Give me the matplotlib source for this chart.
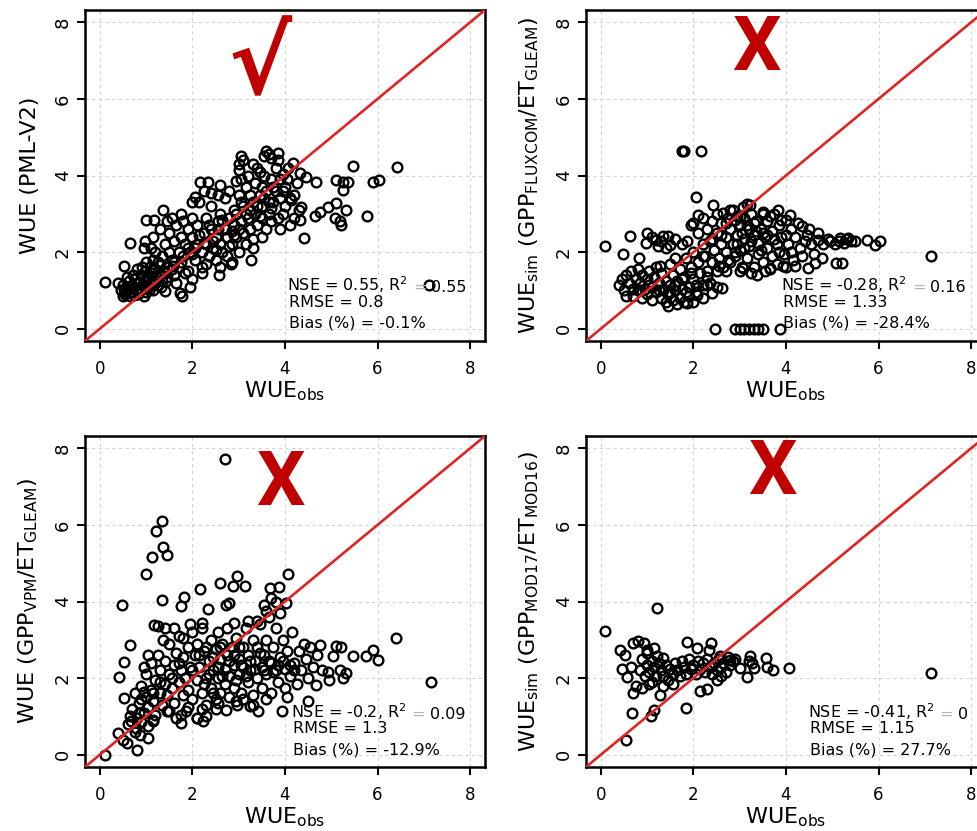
import matplotlib
matplotlib.use("Agg")
import matplotlib.pyplot as plt
import numpy as np

# ---------------------------------------------------------------- estilo
RED_LINE = "#de2424"
MARK_RED = "#c00000"
GRID = "#d4d4d4"
EQ_GRAY = "#b4b4b4"
LIM = (-0.32, 8.32)
TICKS = [0, 2, 4, 6, 8]

plt.rcParams.update({
    "font.family": "DejaVu Sans",
    "mathtext.fontset": "dejavusans",
    "axes.linewidth": 1.8,
    "xtick.major.width": 1.5,
    "ytick.major.width": 1.5,
    "xtick.major.size": 5.5,
    "ytick.major.size": 5.5,
    "xtick.direction": "out",
    "ytick.direction": "out",
})

# ---------------------------------------------------------------- datos
# WUE_obs vs WUE simulado
tl_pts = [
    (0.11, 1.21), (0.53, 1.63), (0.65, 2.23), (0.99, 2.83), (1.17, 2.83), (1.37, 3.09),
    (1.41, 0.99), (2.16, 3.84), (2.34, 3.84), (2.0, 3.32), (2.57, 1.40), (2.83, 1.69),
    (3.26, 1.80), (3.0, 4.15), (3.06, 4.5), (3.6, 4.63), (3.85, 4.58), (4.06, 4.19),
    (4.17, 4.32), (5.47, 4.26), (6.42, 4.23), (5.9, 3.84), (6.04, 3.89), (5.11, 3.89),
    (5.25, 3.84), (5.36, 3.84), (5.25, 3.63), (5.11, 3.28), (5.32, 3.09), (4.93, 3.19),
    (4.75, 3.06), (4.64, 2.93), (5.07, 2.89), (5.18, 2.8), (5.22, 2.71), (5.78, 2.95),
    (4.42, 2.37), (4.68, 3.84), (4.46, 3.97), (4.32, 4.06), (4.14, 3.37), (4.32, 2.84),
    (4.35, 3.19), (7.12, 1.15),
    (0.45, 1.0), (0.5, 1.15), (0.55, 0.9), (0.6, 1.05), (0.62, 1.25), (0.68, 0.95),
    (0.7, 1.15), (0.75, 1.3), (0.78, 1.0), (0.82, 0.9), (0.85, 1.2), (0.88, 1.4),
    (0.9, 1.05), (0.95, 1.25), (0.98, 1.5), (1.0, 0.95), (1.02, 1.1), (1.05, 1.35),
    (1.08, 1.6), (1.1, 1.2), (1.12, 1.45), (1.15, 1.0), (1.18, 1.3), (1.2, 1.55),
    (1.25, 1.15), (1.28, 1.4), (1.3, 1.7), (1.35, 1.25), (1.38, 1.5), (0.5, 0.85),
    (0.65, 0.85), (0.72, 1.4), (0.4, 1.2), (0.92, 1.6), (1.0, 1.75), (0.58, 1.35),
    (0.8, 1.55), (1.15, 1.8), (0.95, 0.85), (1.73, 0.93), (1.78, 0.86), (1.94, 1.09),
    (1.83, 1.45), (1.58, 1.63), (1.65, 1.19),
    (1.35, 1.9), (1.4, 2.2), (1.45, 1.6), (1.5, 2.0), (1.5, 2.5), (1.55, 1.8),
    (1.6, 2.3), (1.6, 1.4), (1.65, 2.7), (1.7, 2.0), (1.7, 1.6), (1.75, 2.4),
    (1.8, 2.8), (1.8, 1.9), (1.85, 2.2), (1.9, 2.6), (1.9, 1.5), (1.95, 2.0),
    (2.0, 2.4), (2.0, 2.9), (2.05, 1.8), (2.1, 2.2), (2.1, 2.7), (2.15, 3.3),
    (2.2, 2.0), (2.2, 1.6), (2.25, 2.5), (2.3, 2.9), (2.3, 2.2), (2.35, 1.9),
    (2.4, 2.6), (2.4, 3.2), (2.45, 2.1), (2.5, 2.4), (2.5, 1.8), (2.55, 2.8),
    (2.55, 3.5), (2.6, 2.2), (2.6, 3.0), (2.65, 2.0), (2.7, 2.6), (2.7, 3.4),
    (2.75, 1.9), (2.75, 2.4), (2.8, 2.9), (2.8, 3.6), (2.85, 2.2), (2.9, 2.7),
    (2.9, 3.1), (2.95, 2.4), (3.0, 3.5), (3.0, 2.0), (3.05, 2.8), (3.05, 3.9),
    (3.1, 2.5), (3.1, 3.2), (3.15, 2.2), (3.15, 3.7), (3.2, 2.9), (3.2, 4.0),
    (3.25, 2.6), (3.3, 3.3), (3.3, 2.1), (3.35, 3.0), (3.35, 3.8), (3.4, 2.7),
    (3.4, 4.2), (3.45, 3.5), (3.5, 2.9), (3.5, 3.2), (3.55, 4.0), (3.6, 2.6),
    (3.6, 3.6), (3.65, 3.0), (3.7, 3.9), (3.7, 2.8), (3.75, 3.3), (3.8, 3.6),
    (3.85, 2.9), (3.9, 3.4), (3.95, 3.0), (4.0, 3.7), (4.0, 3.2), (4.1, 3.4),
    (4.2, 2.9), (4.2, 3.5), (4.3, 3.1), (4.1, 2.7), (3.9, 2.6), (3.5, 2.4),
    (3.3, 2.35), (1.2, 2.0), (1.25, 1.75), (1.1, 2.1), (0.95, 2.1), (1.45, 2.8),
    (1.3, 2.6), (1.15, 2.4), (0.98, 2.3), (1.55, 2.9), (1.75, 3.0), (2.05, 3.45),
    (2.25, 3.6), (2.4, 3.55), (2.6, 3.75), (2.95, 3.85), (3.0, 4.3), (3.1, 4.4),
    (3.3, 4.3), (3.55, 4.5), (3.65, 4.55), (3.7, 4.45), (3.45, 4.1), (3.8, 4.2),
    (3.85, 4.4), (2.8, 2.15), (2.5, 2.05), (2.2, 1.45), (2.0, 1.3), (2.3, 1.7),
    (2.6, 1.6), (2.85, 1.75),
    (1.45, 1.35), (1.6, 1.75), (1.75, 1.75), (1.9, 2.1), (2.05, 2.1), (2.15, 2.45),
    (2.35, 2.7), (2.45, 2.3), (2.55, 2.6), (2.65, 2.85), (2.85, 2.55), (2.95, 3.0),
    (3.05, 3.3), (3.15, 3.0), (3.25, 3.5), (3.4, 3.2), (3.5, 3.7), (3.55, 3.4),
    (3.65, 3.3), (3.75, 3.7), (3.9, 3.9), (3.95, 3.6), (3.25, 3.1), (2.9, 2.45),
    (3.0, 2.6), (3.45, 2.95), (3.7, 3.15), (2.25, 2.25), (2.0, 1.95), (1.55, 1.55),
    (1.4, 1.45), (1.2, 1.2), (3.95, 4.05), (4.05, 3.9), (4.25, 3.8),
    (0.52, 1.05), (0.66, 1.1), (0.74, 0.88), (0.86, 1.05), (0.93, 1.35), (1.06, 1.0),
    (1.14, 1.15), (1.22, 1.35), (1.32, 1.1), (1.42, 1.25), (0.56, 0.95), (0.8, 1.2),
]

tr_pts = [
    (1.75, 4.63), (1.8, 4.63), (2.16, 4.63), (2.05, 3.45), (0.09, 2.15), (0.47, 1.96),
    (0.64, 2.41), (0.83, 1.84), (0.99, 2.5), (0.98, 2.23), (1.19, 2.32), (1.24, 2.15),
    (1.35, 2.41), (1.46, 2.41), (1.5, 2.19), (1.86, 2.28), (1.6, 1.84), (1.28, 1.63),
    (2.0, 2.76), (2.1, 2.97), (2.42, 3.23), (2.65, 3.02), (2.79, 3.1), (3.08, 3.19),
    (3.22, 3.23), (2.94, 2.93), (3.51, 3.06), (3.83, 3.1), (4.09, 2.97), (4.34, 2.67),
    (4.45, 2.45), (4.7, 2.32), (4.95, 2.28), (5.17, 2.37), (5.35, 2.37), (5.49, 2.28),
    (5.76, 2.32), (5.92, 2.19), (6.03, 2.28), (5.09, 1.71), (5.2, 1.71), (7.14, 1.9),
    (4.77, 1.84), (4.63, 1.71), (4.48, 1.58), (4.19, 1.63), (3.94, 1.63), (3.65, 1.58),
    (3.37, 1.41), (3.08, 1.58), (2.07, 0.89), (2.4, 0.93), (2.61, 1.06), (2.29, 1.15),
    (1.86, 0.67),
    (2.47, 0.0), (2.9, 0.0), (3.0, 0.0), (3.1, 0.0), (3.2, 0.0), (3.3, 0.0),
    (3.4, 0.0), (3.5, 0.0), (3.87, 0.0),
    (0.4, 1.15), (0.45, 1.3), (0.5, 1.0), (0.55, 1.4), (0.55, 0.85), (0.6, 1.2),
    (0.65, 1.5), (0.7, 1.05), (0.7, 0.85), (0.75, 1.3), (0.8, 1.0), (0.8, 1.55),
    (0.85, 1.2), (0.9, 1.4), (0.9, 0.8), (0.95, 1.05), (1.0, 1.3), (1.0, 0.9),
    (1.05, 1.5), (1.1, 1.1), (1.1, 0.75), (1.15, 1.35), (1.2, 0.95), (1.2, 1.6),
    (1.25, 1.2), (1.3, 0.8), (1.3, 1.45), (1.35, 1.0), (1.4, 1.25), (1.4, 0.7),
    (1.45, 0.9), (1.5, 1.15), (1.5, 1.7), (1.55, 0.75), (1.55, 1.4), (1.6, 1.0),
    (1.65, 1.25), (1.7, 0.8), (1.7, 1.55), (1.75, 1.05), (1.8, 0.7), (1.8, 1.35),
    (1.85, 1.85), (1.9, 1.1), (1.9, 0.85), (1.95, 1.6), (2.0, 1.3), (2.0, 2.0),
    (2.05, 0.95), (2.1, 1.75), (2.1, 2.5), (2.15, 1.45), (2.2, 2.2), (2.2, 1.15),
    (2.25, 1.9), (2.3, 2.6), (2.3, 1.5), (2.35, 2.3), (2.4, 1.75), (2.4, 2.8),
    (2.45, 2.05), (2.5, 1.5), (2.5, 2.5), (2.55, 1.85), (2.6, 2.75), (2.6, 2.2),
    (2.65, 1.6), (2.7, 2.4), (2.7, 2.0), (2.75, 2.9), (2.8, 1.75), (2.8, 2.6),
    (2.85, 2.2), (2.9, 2.85), (2.9, 1.9), (2.95, 2.45), (3.0, 2.7), (3.0, 2.05),
    (3.05, 1.6), (3.1, 2.9), (3.1, 2.35), (3.15, 1.85), (3.2, 2.6), (3.2, 2.15),
    (3.25, 3.0), (3.3, 1.6), (3.3, 2.45), (3.35, 2.8), (3.4, 1.95), (3.4, 2.25),
    (3.45, 2.6), (3.5, 1.75), (3.5, 3.0), (3.55, 2.4), (3.6, 2.1), (3.6, 2.8),
    (3.65, 1.55), (3.7, 2.55), (3.7, 1.9), (3.75, 3.0), (3.8, 2.2), (3.8, 1.7),
    (3.85, 2.7), (3.9, 2.4), (3.95, 1.95), (4.0, 2.85), (4.0, 1.6), (4.05, 2.2),
    (4.1, 2.6), (4.15, 1.8), (4.2, 2.4), (4.25, 2.75), (4.3, 2.1), (4.35, 1.9),
    (4.4, 2.3), (4.5, 2.6), (4.55, 2.2), (4.6, 1.95), (4.7, 2.5), (4.8, 2.2),
    (4.9, 2.35), (5.05, 2.2), (5.15, 2.3), (5.25, 2.25), (5.3, 2.35), (5.4, 2.3),
    (1.6, 2.35), (1.3, 2.3), (1.1, 2.4), (1.4, 2.1), (1.75, 2.2), (1.95, 2.7),
    (2.2, 2.9), (2.5, 3.0), (2.85, 3.1), (3.15, 3.25), (3.0, 1.5), (2.7, 1.5),
    (3.55, 1.5), (3.25, 1.45), (2.35, 1.2), (2.0, 0.7), (1.65, 0.65), (1.45, 0.6),
    (1.85, 0.95), (2.2, 0.8), (2.5, 1.1),
    (2.95, 2.2), (3.05, 2.5), (3.15, 2.7), (3.25, 2.3), (3.35, 2.55), (3.45, 2.05),
    (3.5, 2.5), (3.6, 2.45), (3.65, 2.95), (3.75, 2.35), (3.85, 2.0), (3.9, 2.85),
    (4.0, 2.45), (4.1, 2.0), (3.3, 2.75), (3.1, 2.1), (2.6, 2.45), (2.4, 2.35),
    (2.2, 1.9), (1.95, 1.45), (1.75, 1.3), (1.5, 0.95), (1.25, 1.0), (1.05, 1.15),
    (0.85, 1.0), (1.6, 1.15), (2.05, 1.15), (2.3, 1.35), (2.55, 1.65), (2.75, 1.8),
    (2.9, 2.0), (3.0, 2.95), (2.7, 2.75),
]

bl_pts = [
    (2.7, 7.71), (1.35, 6.1), (1.22, 5.83), (1.37, 5.42), (1.46, 5.22), (1.13, 5.16),
    (0.99, 4.72), (0.47, 3.91), (1.35, 4.03), (1.76, 3.87), (1.82, 4.11), (2.16, 4.33),
    (2.34, 3.8), (2.59, 4.48), (2.73, 3.91), (2.78, 3.95), (2.97, 4.67), (2.88, 4.41),
    (3.14, 4.41), (3.67, 4.35), (3.88, 4.39), (4.06, 4.72), (4.03, 3.96), (3.81, 4.0),
    (1.17, 3.39), (1.37, 3.0), (0.65, 2.87), (0.52, 2.43), (0.42, 2.04), (0.53, 1.48),
    (6.4, 3.04), (7.16, 1.91), (5.9, 2.74), (6.0, 2.48), (5.76, 2.58), (5.47, 2.58),
    (5.11, 2.83), (5.22, 2.81), (4.75, 2.87), (5.04, 2.57), (4.93, 2.17), (4.95, 1.96),
    (5.18, 2.22), (5.32, 2.13), (5.25, 2.0), (4.68, 1.83), (4.5, 1.39), (3.94, 1.13),
    (3.42, 1.13), (3.24, 1.26), (2.97, 1.3), (2.73, 1.17),
    (0.11, 0.0), (0.81, 0.13), (1.04, 0.43), (0.86, 0.52), (0.58, 0.3), (0.5, 0.39),
    (0.4, 0.57), (0.79, 0.7), (0.68, 0.87), (1.15, 0.87), (1.76, 0.83), (1.76, 1.04),
    (2.09, 0.96), (2.23, 0.87), (1.87, 1.13),
    (0.7, 1.2), (0.75, 1.6), (0.8, 0.95), (0.85, 1.35), (0.9, 1.8), (0.95, 1.1),
    (1.0, 1.5), (1.0, 2.1), (1.05, 1.25), (1.1, 1.7), (1.1, 2.4), (1.15, 1.4),
    (1.2, 1.95), (1.2, 1.05), (1.25, 2.6), (1.3, 1.6), (1.3, 2.2), (1.35, 1.3),
    (1.4, 1.85), (1.4, 2.45), (1.45, 1.55), (1.5, 2.1), (1.5, 2.9), (1.55, 1.75),
    (1.6, 2.35), (1.6, 1.35), (1.65, 2.65), (1.7, 1.9), (1.7, 3.1), (1.75, 2.2),
    (1.8, 1.55), (1.8, 2.55), (1.85, 2.0), (1.9, 2.8), (1.9, 1.7), (1.95, 2.3),
    (2.0, 3.2), (2.0, 1.45), (2.05, 2.6), (2.1, 1.95), (2.1, 2.9), (2.15, 2.3),
    (2.2, 1.6), (2.2, 3.3), (2.25, 2.7), (2.3, 2.0), (2.3, 1.3), (2.35, 2.45),
    (2.4, 3.0), (2.4, 1.75), (2.45, 2.2), (2.5, 2.75), (2.5, 1.45), (2.55, 3.2),
    (2.55, 2.0), (2.6, 2.5), (2.6, 1.6), (2.65, 2.9), (2.7, 2.25), (2.7, 1.85),
    (2.75, 3.3), (2.75, 2.6), (2.8, 1.5), (2.8, 2.05), (2.85, 2.8), (2.9, 2.35),
    (2.9, 1.75), (2.95, 3.05), (3.0, 2.5), (3.0, 2.1), (3.05, 1.6), (3.1, 2.8),
    (3.1, 2.3), (3.15, 3.3), (3.2, 1.9), (3.2, 2.6), (3.25, 2.2), (3.3, 3.0),
    (3.3, 1.55), (3.35, 2.45), (3.4, 2.0), (3.4, 2.8), (3.45, 3.4), (3.5, 2.3),
    (3.5, 1.75), (3.55, 2.6), (3.6, 3.0), (3.6, 2.1), (3.65, 3.6), (3.7, 2.4),
    (3.7, 1.6), (3.75, 2.8), (3.8, 2.2), (3.8, 3.3), (3.85, 1.9), (3.9, 2.55),
    (3.95, 3.0), (4.0, 2.25), (4.0, 1.75), (4.05, 2.7), (4.1, 2.05), (4.15, 3.2),
    (4.2, 2.4), (4.25, 1.85), (4.3, 2.7), (4.35, 2.2), (4.45, 2.5), (4.5, 2.0),
    (4.55, 2.8), (4.6, 2.3), (4.4, 2.9), (4.7, 2.6), (4.8, 2.2), (3.55, 3.9),
    (3.7, 4.1), (3.6, 3.75), (3.4, 3.5), (3.9, 3.7), (3.2, 3.5), (2.9, 3.45),
    (2.2, 3.45), (1.95, 3.4), (1.6, 3.3), (1.4, 3.3), (1.25, 3.35), (1.8, 3.05),
    (1.05, 2.6), (0.95, 2.3), (0.9, 1.45), (0.65, 1.0), (0.6, 0.8), (0.75, 0.6),
    (1.15, 0.9), (1.5, 1.15), (1.9, 1.25), (2.5, 1.2), (2.95, 1.4), (3.6, 1.45),
    (4.05, 1.5), (3.3, 1.3), (2.3, 1.0), (2.1, 0.95), (1.65, 0.95),
    (2.0, 2.2), (2.15, 2.6), (2.25, 1.85), (2.35, 2.1), (2.45, 2.55), (2.55, 2.3),
    (2.65, 2.05), (2.8, 2.45), (2.9, 2.6), (2.95, 1.95), (3.05, 2.35), (3.15, 2.05),
    (3.25, 2.45), (3.35, 2.25), (3.45, 2.65), (3.55, 2.2), (3.65, 2.45), (3.75, 2.15),
    (3.85, 2.35), (3.95, 2.45), (4.1, 2.35), (4.2, 2.2), (3.0, 2.8), (2.6, 2.8),
    (2.3, 2.8), (1.7, 2.4), (1.55, 2.0), (1.3, 1.9), (1.15, 1.6), (0.95, 1.65),
    (0.85, 1.1), (0.9, 0.85), (1.05, 0.75), (1.45, 1.15), (2.2, 1.2), (2.55, 1.35),
    (2.45, 1.6), (3.1, 1.45),
]

br_pts = [
    (0.09, 3.24), (1.21, 3.83), (7.14, 2.13), (0.55, 0.39), (0.68, 1.09), (1.09, 1.0),
    (1.14, 1.17), (1.27, 1.57), (0.7, 1.61), (1.84, 1.23), (2.14, 1.67), (2.29, 1.71),
    (0.42, 2.74), (0.52, 2.61), (0.45, 2.23), (0.56, 2.04), (0.7, 2.91), (0.81, 2.98),
    (0.93, 2.91), (0.99, 2.74), (1.15, 2.78), (1.21, 2.57), (1.35, 2.52), (1.86, 2.94),
    (2.08, 2.78), (2.37, 2.91), (2.33, 2.74), (2.57, 2.57), (2.79, 2.48), (3.0, 2.26),
    (3.15, 2.04), (3.22, 2.57), (3.26, 2.39), (3.31, 2.26), (3.56, 2.52), (3.58, 2.28),
    (3.73, 2.22), (4.06, 2.26),
    (0.85, 2.2), (0.9, 2.5), (0.95, 2.05), (1.0, 2.35), (1.0, 2.65), (1.05, 2.15),
    (1.1, 2.45), (1.1, 1.9), (1.15, 2.3), (1.2, 2.05), (1.25, 2.4), (1.3, 2.2),
    (1.35, 2.05), (1.4, 2.35), (1.45, 1.95), (1.5, 2.25), (1.55, 2.1), (1.6, 2.4),
    (1.65, 2.2), (1.7, 2.05), (1.75, 2.45), (1.8, 2.3), (1.85, 2.1), (1.9, 2.5),
    (1.95, 2.25), (2.0, 2.35), (2.05, 2.1), (2.1, 2.45), (2.15, 2.25), (2.2, 2.4),
    (2.25, 2.15), (2.3, 2.5), (2.35, 2.3), (2.4, 2.1), (2.45, 2.4), (2.5, 2.2),
    (2.5, 1.95), (2.55, 2.5), (2.6, 2.3), (2.6, 2.05), (2.65, 2.4), (2.7, 2.15),
    (2.75, 2.55), (2.8, 2.35), (2.85, 2.45), (0.75, 1.8), (0.9, 1.75), (1.05, 1.85),
    (0.65, 2.3), (1.35, 1.8), (1.55, 1.85), (2.9, 2.5), (3.2, 2.45),
]

# estadisticos de cada panel
nse = ["0.55", "-0.28", "-0.2", "-0.41"]
r2 = ["0.55", "0.16", "0.09", "0"]
rmse = ["0.8", "1.33", "1.3", "1.15"]
bias = ["-0.1", "-28.4", "-12.9", "27.7"]

ylabels = [
    "WUE (PML-V2)",
    r"WUE$_\mathrm{sim}$ (GPP$_\mathrm{FLUXCOM}$/ET$_\mathrm{GLEAM}$)",
    r"WUE (GPP$_\mathrm{VPM}$/ET$_\mathrm{GLEAM}$)",
    r"WUE$_\mathrm{sim}$ (GPP$_\mathrm{MOD17}$/ET$_\mathrm{MOD16}$)",
]
marks = ["\u221a", "X", "X", "X"]

# ---------------------------------------------------------------- layout
W, H = 978, 831
rects = [
    (85 / W, 1 - 341 / H, 400 / W, 331 / H),
    (586 / W, 1 - 341 / H, 400 / W, 331 / H),
    (85 / W, 1 - 767 / H, 400 / W, 331 / H),
    (586 / W, 1 - 767 / H, 400 / W, 331 / H),
]
mark_xy = [(3.45, 6.8), (3.35, 7.3), (3.9, 7.05), (3.7, 7.35)]
text_xy = [(4.05, (1.15, 0.68, 0.16)), (3.9, (1.15, 0.68, 0.16)),
           (4.13, (1.13, 0.68, 0.13)), (4.47, (1.13, 0.68, 0.13))]
X_FAMILY = ["DejaVu Sans Condensed", "Liberation Sans Narrow", "Roboto", "DejaVu Sans"]


def draw_panel(fig, i, pts):
    ax = fig.add_axes(rects[i])
    x, y = np.array(pts).T
    ax.set_xlim(*LIM)
    ax.set_ylim(*LIM)
    ax.set_xticks(TICKS)
    ax.set_yticks(TICKS)
    ax.tick_params(axis="x", labelsize=12, pad=8)
    ax.tick_params(axis="y", labelsize=13, pad=4)
    for lab in ax.get_yticklabels():
        lab.set_rotation(90)
        lab.set_va("center")
    ax.grid(True, color=GRID, ls=(0, (3, 3)), lw=0.8)
    ax.set_axisbelow(True)

    ax.plot(x, y, "o", ms=7, mfc="none", mec="black", mew=1.7, zorder=3)
    ax.axline((0, 0), slope=1, color=RED_LINE, lw=1.9, zorder=4)

    ax.set_xlabel(r"WUE$_\mathrm{obs}$", fontsize=16)
    ax.xaxis.set_label_coords(0.5, -0.115)
    ax.set_ylabel(ylabels[i], fontsize=16)
    ax.yaxis.set_label_coords(-0.112, 0.5)

    mx, my = mark_xy[i]
    if marks[i] == "X":
        ax.text(mx, my, "X", fontsize=55, fontweight="bold", color=MARK_RED,
                family=X_FAMILY, fontstretch="condensed",
                ha="center", va="center", zorder=5)
    else:
        ax.text(mx, my, marks[i], fontsize=68, fontweight="bold", color=MARK_RED,
                ha="center", va="center", zorder=5)

    tx, (y1, y2, y3) = text_xy[i]
    t1 = ax.text(tx, y1, f"NSE = {nse[i]}, R$^2$", fontsize=11.5, va="center", zorder=5)
    t2 = ax.annotate("=", xy=(1, 0), xycoords=t1, xytext=(3.5, 0),
                     textcoords="offset points", fontsize=11.5, color=EQ_GRAY,
                     va="bottom", ha="left", zorder=5)
    ax.annotate(r2[i], xy=(1, 0), xycoords=t2, xytext=(3.5, 0),
                textcoords="offset points", fontsize=11.5,
                va="bottom", ha="left", zorder=5)
    ax.text(tx + 0.04, y2, f"RMSE = {rmse[i]}", fontsize=11.5, va="center", zorder=5)
    ax.text(tx + 0.04, y3, f"Bias (%) = {bias[i]}%", fontsize=11.5, va="center", zorder=5)
    return ax


fig = plt.figure(figsize=(W / 100, H / 100), dpi=100)
for i, pts in enumerate([tl_pts, tr_pts, bl_pts, br_pts]):
    draw_panel(fig, i, pts)

fig.savefig("out.png", dpi=100)
